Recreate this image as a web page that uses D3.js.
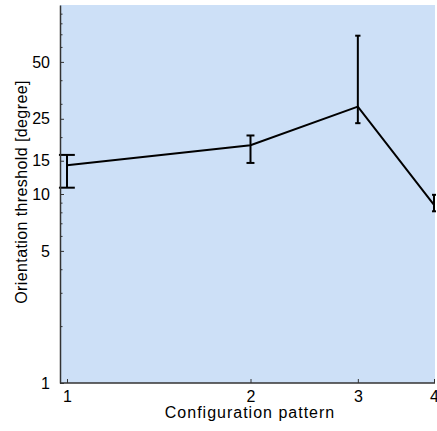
<!DOCTYPE html>
<html><head><meta charset="utf-8">
<script src="https://cdn.jsdelivr.net/npm/d3@7"></script>
<style>
html,body{margin:0;padding:0;background:#fff;}
text{font-family:"Liberation Sans",Arial,sans-serif;fill:#000;}
</style></head>
<body>
<svg id="chart" width="437" height="431"></svg>
<script>
const patterns = [1, 2, 3, 4];
const thresholdMean = [14.2, 18.1, 29.0, 8.75];
const errorUpper = [16.1, 20.4, 68.8, 9.9];
const errorLower = [10.8, 14.6, 23.7, 8.1];
const yTickValues = [1, 5, 10, 15, 25, 50];
const yMinorTicks = [2, 3, 4, 6, 7, 8, 9, 20, 30, 40, 60, 70, 80, 90];
const xTickValues = [1, 2, 3, 4];
const capHalfWidth = 0.03; // in data units, as MATLAB errorbar

const svg = d3.select("#chart");
const pLeft = 60, pRight = 435, pTop = 5, pBottom = 383;

const x = d3.scaleLog().domain([1, 4]).range([67, 434]);
const y = d3.scaleLog().domain([1, 100]).range([pBottom, pTop]);

svg.append("rect").attr("x", pLeft).attr("y", pTop)
  .attr("width", pRight - pLeft).attr("height", pBottom - pTop)
  .attr("fill", "#cde0f7");

// Data line
const line = d3.line().x((d, i) => x(patterns[i])).y(d => y(d));
svg.append("path").datum(thresholdMean)
  .attr("d", line).attr("fill", "none")
  .attr("stroke", "#000").attr("stroke-width", 2);

// Error bars
const eb = svg.append("g").attr("stroke", "#000").attr("stroke-width", 2);
patterns.forEach((p, i) => {
  const cx = x(p);
  eb.append("line").attr("x1", cx).attr("x2", cx)
    .attr("y1", y(errorUpper[i])).attr("y2", y(errorLower[i]));
  [errorUpper[i], errorLower[i]].forEach(v => {
    eb.append("line").attr("x1", x(p - capHalfWidth)).attr("x2", x(p + capHalfWidth))
      .attr("y1", y(v)).attr("y2", y(v));
  });
});

// Y axis
const yAxis = d3.axisLeft(y).tickValues(yTickValues).tickFormat(d3.format("d"))
  .tickSizeInner(-4).tickSizeOuter(0).tickPadding(10);
const gy = svg.append("g").attr("transform", `translate(${pLeft},0)`).call(yAxis);
gy.selectAll("text").style("font-size", "16px");
gy.select(".domain").attr("stroke", "#333").attr("stroke-width", 1.5);
gy.selectAll(".tick line").attr("stroke", "#333");
const yMinor = d3.axisLeft(y).tickValues(yMinorTicks).tickFormat("")
  .tickSizeInner(-2.5).tickSizeOuter(0);
const gym = svg.append("g").attr("transform", `translate(${pLeft},0)`).call(yMinor);
gym.select(".domain").remove();
gym.selectAll(".tick line").attr("stroke", "#333");

// X axis
const xAxis = d3.axisBottom(x).tickValues(xTickValues).tickFormat(d3.format("d"))
  .tickSizeInner(-4).tickSizeOuter(0).tickPadding(10);
const gx = svg.append("g").attr("transform", `translate(0,${pBottom})`).call(xAxis);
gx.select(".domain").attr("d", `M${pLeft},0H${pRight}`)
  .attr("stroke", "#333").attr("stroke-width", 1.5);
gx.selectAll(".tick line").attr("stroke", "#333");
gx.selectAll("text").style("font-size", "16px").attr("y", 8).attr("dy", "0.71em");

// Axis titles
svg.append("text").attr("x", 250).attr("y", 418)
  .attr("text-anchor", "middle").style("font-size", "16px")
  .style("letter-spacing", "1px")
  .text("Configuration pattern");
svg.append("text").attr("transform", "translate(27,192) rotate(-90)")
  .attr("text-anchor", "middle").style("font-size", "16px")
  .style("letter-spacing", "0.4px")
  .text("Orientation threshold [degree]");
</script>
</body></html>
